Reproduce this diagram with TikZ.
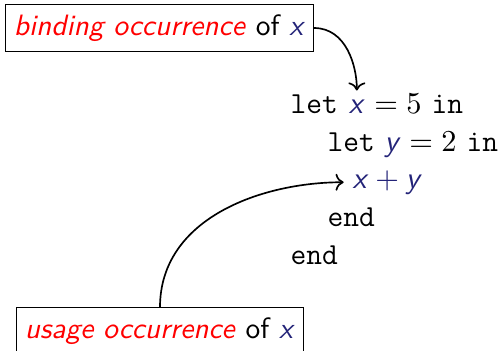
\documentclass[tikz,border=0pt]{standalone}
\usepackage{tikz}
\usetikzlibrary{arrows.meta, positioning}
\renewcommand{\familydefault}{\sfdefault}
\definecolor{varblue}{RGB}{35,35,120}
\newcommand{\varx}{\textcolor{varblue}{\textsf{\textit{x}}}}
\newcommand{\vary}{\textcolor{varblue}{\textsf{\textit{y}}}}

\begin{document}
\begin{tikzpicture}[
            x=0.36pt, y=-0.36pt,
            lbox/.style={draw, inner xsep=3pt, inner ysep=3.5pt, font=\fontsize{10.6}{13}\selectfont},
            code/.style={anchor=base west, inner sep=0pt, font=\fontsize{11}{13.6}\selectfont},
            arrow/.style={->, semithick, shorten >=3pt}
        ]
        \useasboundingbox (0,0) rectangle (501,351);
        % --- labels ---
        \node[lbox] (bind) at (159.5,28) {\textcolor{red}{\textit{binding occurrence}} of \varx};
        \node[lbox] (use) at (160,331) {\textcolor{red}{\textit{usage occurrence}} of \varx};
        % --- program ---
        \node[code] (let1) at (290,113) {\mbox{\texttt{let} }};
        \node[code] (x1) at (let1.base east) {\varx};
        \node[code] (in1) at (x1.base east) {${}=5$ \texttt{in}};
        \node[code] (let2) at (327,151) {\texttt{let} \vary${}=2$ \texttt{in}};
        \node[code] (sum) at (352,188) {{\color{varblue}$\varx+\vary$}};
        \node[code] (end2) at (327,226) {\texttt{end}};
        \node[code] (end1) at (290,264) {\texttt{end}};
        % --- arrows ---
        \draw[arrow] (bind.east) to[out=0, in=90] (x1.north);
        \draw[arrow] (use.north) to[out=90, in=180] (sum.west);
        \end{tikzpicture}
\end{document}
